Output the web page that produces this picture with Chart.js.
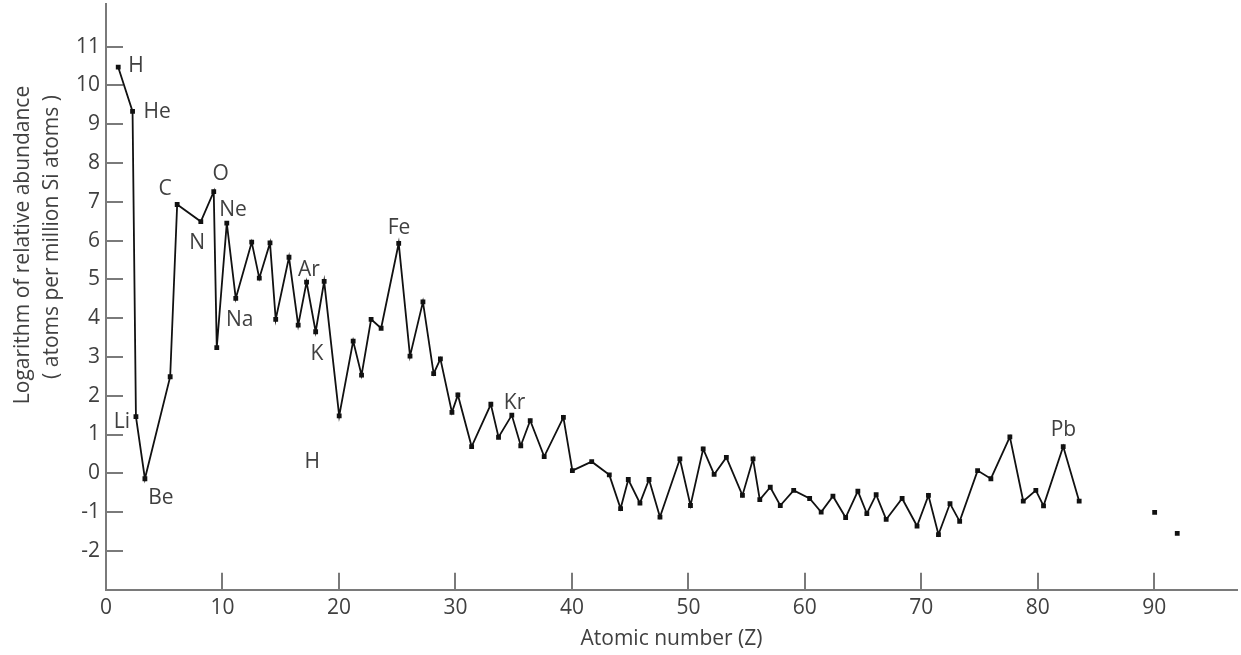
<!DOCTYPE html>
<html>
<head>
<meta charset="utf-8">
<script src="https://cdn.jsdelivr.net/npm/chart.js@4/dist/chart.umd.min.js"></script>
<style>
  body { margin: 0; background: #fff; }
  #wrap { width: 1241px; height: 655px; }
</style>
</head>
<body>
<div id="wrap"><canvas id="mycanvas"></canvas></div>
<script>
// atomic number (as plotted) and log abundance, H .. Bi
var zMain = [1.05, 2.28, 2.57, 3.34, 5.51, 6.11, 8.14, 9.25, 9.51, 10.37,
  11.14, 12.51, 13.16, 14.08, 14.57, 15.71, 16.5, 17.22, 18.0, 18.73,
  20.02, 21.22, 21.94, 22.76, 23.62, 25.13, 26.1, 27.21, 28.13, 28.71,
  29.7, 30.21, 31.39, 33.04, 33.7, 34.84, 35.61, 36.42, 37.62, 39.27,
  40.04, 41.7, 43.21, 44.18, 44.84, 45.84, 46.62, 47.56, 49.27, 50.18,
  51.27, 52.21, 53.26, 54.64, 55.55, 56.13, 57.03, 57.89, 59.04, 60.41,
  61.4, 62.41, 63.5, 64.55, 65.32, 66.12, 66.98, 68.35, 69.63, 70.61,
  71.47, 72.46, 73.29, 74.83, 75.97, 77.6, 78.75, 79.83, 80.49, 82.18, 83.55];
var abundMain = [10.47, 9.33, 1.46, -0.14, 2.49, 6.93, 6.49, 7.26, 3.24, 6.45,
  4.51, 5.96, 5.03, 5.94, 3.97, 5.57, 3.82, 4.93, 3.65, 4.95,
  1.48, 3.41, 2.53, 3.97, 3.74, 5.93, 3.02, 4.42, 2.57, 2.95,
  1.57, 2.02, 0.69, 1.78, 0.93, 1.5, 0.71, 1.36, 0.43, 1.44,
  0.07, 0.30, -0.04, -0.91, -0.16, -0.77, -0.16, -1.13, 0.37, -0.83,
  0.63, -0.03, 0.41, -0.57, 0.37, -0.68, -0.36, -0.83, -0.44, -0.65,
  -1.0, -0.59, -1.14, -0.46, -1.04, -0.55, -1.19, -0.65, -1.36, -0.57,
  -1.58, -0.78, -1.24, 0.07, -0.14, 0.94, -0.72, -0.44, -0.84, 0.69, -0.72];
// Th and U, not joined
var zTail = [90.03, 91.97];
var abundTail = [-1.01, -1.55];

var labelText = ['H', 'He', 'C', 'O', 'Ne', 'N', 'Na', 'Ar', 'K', 'Li', 'Be', 'H', 'Fe', 'Kr', 'Pb'];
var labelZ = [2.58, 4.40, 5.08, 9.85, 10.91, 7.82, 11.48, 17.42, 18.11, 1.37, 4.71, 17.70, 25.16, 35.07, 82.20];
var labelAbund = [10.51, 9.31, 7.34, 7.72, 6.78, 5.93, 3.96, 5.24, 3.07, 1.31, -0.65, 0.30, 6.33, 1.81, 1.12];

var xTicks = [0, 10, 20, 30, 40, 50, 60, 70, 80, 90];
var yTicks = [-2, -1, 0, 1, 2, 3, 4, 5, 6, 7, 8, 9, 10, 11];

var yTitle = ['Logarithm of relative abundance', '( atoms per million Si atoms )'];
var xTitle = 'Atomic number (Z)';

var FONT = "'Open Sans', sans-serif";
var AXIS = '#7a7a7a';
var TEXT = '#404040';

function pairs(xs, ys) {
  var out = [];
  for (var i = 0; i < xs.length; i++) out.push({ x: xs[i], y: ys[i] });
  return out;
}

function noPad(s) {
  s.paddingTop = 0; s.paddingBottom = 0;
  s.paddingLeft = 0; s.paddingRight = 0;
}

// tick marks point into the plot, plus the element names and y title
var extras = {
  id: 'extras',
  beforeDatasetsDraw: function(chart) {
    var ctx = chart.ctx, a = chart.chartArea;
    var xs = chart.scales.x, ys = chart.scales.y;
    ctx.save();
    ctx.strokeStyle = AXIS;
    ctx.lineWidth = 2;
    ctx.beginPath();
    xTicks.forEach(function(v) {
      if (v === 0) return;
      var px = Math.round(xs.getPixelForValue(v));
      ctx.moveTo(px, a.bottom);
      ctx.lineTo(px, a.bottom - 17);
    });
    yTicks.forEach(function(v) {
      var py = Math.round(ys.getPixelForValue(v));
      ctx.moveTo(a.left, py);
      ctx.lineTo(a.left + 17, py);
    });
    ctx.stroke();
    ctx.restore();
  },
  afterDatasetsDraw: function(chart) {
    var ctx = chart.ctx;
    var xs = chart.scales.x, ys = chart.scales.y;
    ctx.save();
    ctx.fillStyle = TEXT;
    ctx.font = '21px ' + FONT;
    ctx.textAlign = 'center';
    ctx.textBaseline = 'middle';
    for (var i = 0; i < labelText.length; i++) {
      ctx.fillText(labelText[i], xs.getPixelForValue(labelZ[i]), ys.getPixelForValue(labelAbund[i]));
    }
    // y title, two lines
    ctx.rotate(-Math.PI / 2);
    ctx.textBaseline = 'alphabetic';
    ctx.fillText(yTitle[0], -245, 29);
    ctx.fillText(yTitle[1], -237, 58);
    ctx.restore();
  }
};

var ctx = document.getElementById('mycanvas');

var chart = new Chart(ctx, {
  type: 'scatter',
  data: {
    datasets: [
      {
        data: pairs(zMain, abundMain),
        showLine: true,
        borderColor: '#111',
        borderWidth: 1.8,
        pointStyle: 'rect',
        pointRadius: 3.4,
        pointBackgroundColor: '#111',
        pointBorderWidth: 0,
        tension: 0
      },
      {
        data: pairs(zTail, abundTail),
        showLine: false,
        pointStyle: 'rect',
        pointRadius: 3.4,
        pointBackgroundColor: '#111',
        pointBorderWidth: 0
      }
    ]
  },
  options: {
    responsive: true,
    maintainAspectRatio: false,
    animation: false,
    layout: { padding: { top: 1, right: 1, left: 0, bottom: 0 } },
    plugins: { legend: { display: false }, tooltip: { enabled: false } },
    scales: {
      x: {
        type: 'linear',
        min: 0,
        max: 97.1,
        grid: { display: false, drawTicks: false },
        border: { display: true, color: AXIS, width: 2 },
        afterBuildTicks: function(s) {
          s.ticks = xTicks.map(function(v) { return { value: v }; });
        },
        afterFit: function(s) { s.height = 65.35; noPad(s); },
        ticks: { color: TEXT, font: { family: FONT, size: 21 }, padding: 6, maxRotation: 0 },
        title: {
          display: true,
          text: xTitle,
          color: TEXT,
          font: { family: FONT, size: 21 },
          padding: { top: 0, bottom: 3 }
        }
      },
      y: {
        type: 'linear',
        min: -3,
        max: 12.1,
        grid: { display: false, drawTicks: false },
        border: { display: true, color: AXIS, width: 2 },
        afterBuildTicks: function(s) {
          s.ticks = yTicks.map(function(v) { return { value: v }; });
        },
        afterFit: function(s) { s.width = 106; noPad(s); },
        ticks: { color: TEXT, font: { family: FONT, size: 21 }, padding: 6 }
      }
    }
  },
  plugins: [extras]
});
</script>
</body>
</html>
